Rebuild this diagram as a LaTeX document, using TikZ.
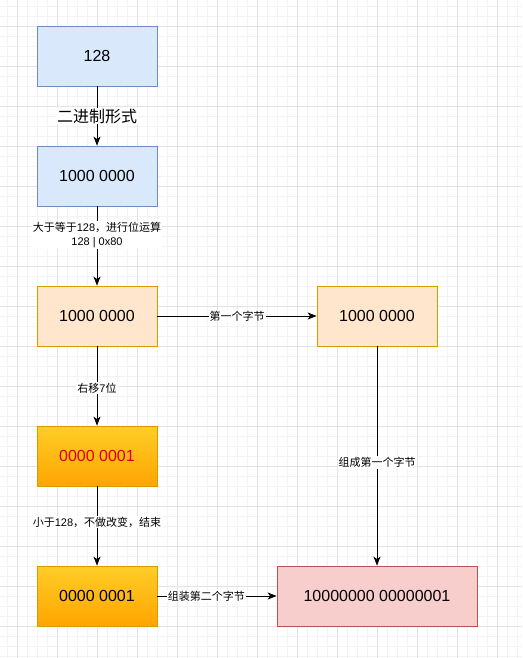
\documentclass[tikz,border=0pt]{standalone}
\usepackage{fontspec}
\setmainfont{Liberation Sans}
\newfontfamily\cjk{Noto Sans CJK SC}
\usetikzlibrary{arrows.meta}
\definecolor{blueF}{HTML}{DAE8FC}
\definecolor{blueS}{HTML}{6C8EBF}
\definecolor{orF}{HTML}{FFE6CC}
\definecolor{orS}{HTML}{D79B00}
\definecolor{gTop}{HTML}{FFCD28}
\definecolor{gBot}{HTML}{FFA500}
\definecolor{pinkF}{HTML}{F8CECC}
\definecolor{pinkS}{HTML}{B85450}
\definecolor{redT}{HTML}{DD0000}
\definecolor{gridMinor}{HTML}{F3F3F3}
\definecolor{gridMajor}{HTML}{E3E3E3}
\tikzset{
  boxbase/.style={rectangle, minimum width=120pt, minimum height=60pt, inner sep=0pt, line width=0.8pt, font=\fontsize{16}{19}\selectfont},
  bluebox/.style={boxbase, draw=blueS, fill=blueF},
  orbox/.style={boxbase, draw=orS, fill=orF},
  gradbox/.style={boxbase, draw=orS, top color=gTop, bottom color=gBot},
  pinkbox/.style={boxbase, draw=pinkS, fill=pinkF, minimum width=200pt},
  conn/.style={line width=0.9pt, -{Stealth[length=9pt,width=7pt,inset=2.5pt]}},
  lbl/.style={fill=white, inner sep=1pt, font=\fontsize{11}{14}\selectfont, align=center},
  biglbl/.style={fill=white, inner sep=1pt, font=\fontsize{16}{19}\selectfont},
  minorline/.style={draw=gridMinor, line width=0.6pt},
  majorline/.style={draw=gridMajor, line width=0.8pt}
}
\begin{document}
\begin{tikzpicture}[x=1pt,y=-1pt]
\useasboundingbox (0,0) rectangle (522,658);
\fill[white] (0,0) rectangle (522,658);
\foreach \x in {7,17,...,517} \draw[minorline] (\x,0) -- (\x,658);
\foreach \y in {6,16,...,656} \draw[minorline] (0,\y) -- (522,\y);
\foreach \x in {17,57,...,497} \draw[majorline] (\x,0) -- (\x,658);
\foreach \y in {26,66,...,626} \draw[majorline] (0,\y) -- (522,\y);

\node[bluebox] (b1) at (97,56) {128};
\node[bluebox] (b2) at (97,176) {1000 0000};
\node[orbox] (b3) at (97,316) {1000 0000};
\node[orbox] (b4) at (377,316) {1000 0000};
\node[gradbox, text=redT] (b5) at (97,456) {0000 0001};
\node[gradbox] (b6) at (97,596) {0000 0001};
\node[pinkbox] (b7) at (377,596) {10000000 00000001};

\draw[conn] (b1) -- (b2) node[pos=0.5, biglbl] {\cjk 二进制形式};
\draw[conn] (b2) -- (b3) node[pos=0.36, lbl] {{\cjk 大于等于}128{\cjk ，进行位运算}\\128 | 0x80};
\draw[conn] (b3) -- (b4) node[pos=0.5, lbl] {\cjk 第一个字节};
\draw[conn] (b3) -- (b5) node[pos=0.525, lbl] {{\cjk 右移}7{\cjk 位}};
\draw[conn] (b5) -- (b6) node[pos=0.45, lbl] {{\cjk 小于}128{\cjk ，不做改变，结束}};
\draw[conn] (b6) -- (b7) node[pos=0.41, lbl] {\cjk 组装第二个字节};
\draw[conn] (b4) -- (b7) node[pos=0.53, lbl] {\cjk 组成第一个字节};
\end{tikzpicture}
\end{document}
